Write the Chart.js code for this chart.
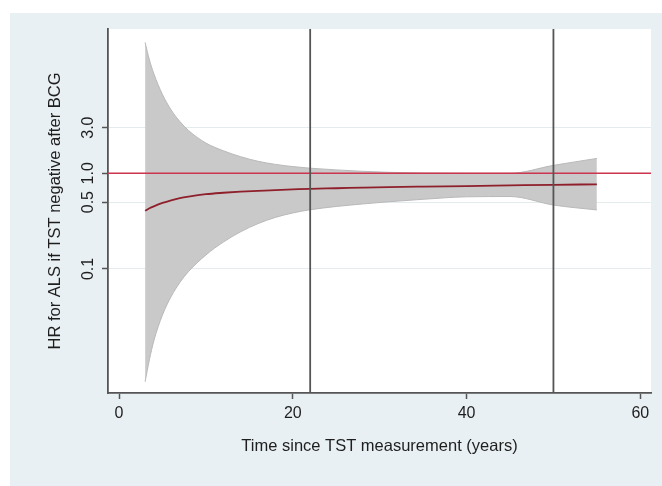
<!DOCTYPE html>
<html><head><meta charset="utf-8">
<script src="https://cdn.jsdelivr.net/npm/chart.js@4/dist/chart.umd.min.js"></script>
<style>html,body{margin:0;padding:0;background:#fff}#wrap{width:662px;height:486px}</style>
</head><body><div id="wrap"><canvas id="c" width="662" height="486"></canvas></div>
<script>
// ---- data ----
const timeYears  = [3, 3.5, 4, 5, 6, 7, 8, 10, 12, 14, 16, 18, 20, 22, 25, 28, 31, 35, 40, 45, 50, 55];
const hrEstimate = [0.406, 0.431, 0.452, 0.490, 0.522, 0.550, 0.571, 0.605, 0.626, 0.643, 0.656, 0.667, 0.678, 0.689, 0.698, 0.708, 0.717, 0.726, 0.736, 0.747, 0.758, 0.767];
const ciUpper    = [23.3, 15.3, 11.0, 6.66, 4.59, 3.48, 2.80, 2.07, 1.72, 1.49, 1.335, 1.239, 1.175, 1.13, 1.085, 1.049, 1.024, 1.007, 1.0, 1.0, 1.21, 1.43];
const ciLower    = [0.00664, 0.01133, 0.0177, 0.0331, 0.0516, 0.0722, 0.0941, 0.140, 0.191, 0.245, 0.298, 0.346, 0.385, 0.416, 0.450, 0.478, 0.504, 0.535, 0.568, 0.572, 0.466, 0.414];
const refLineYears = [22, 50];
const nullHR = 1;
const xTicks = [0, 20, 40, 60];
const yTicks = [0.1, 0.5, 1, 3];
const yTickLabels = ['0.1', '0.5', '1.0', '3.0'];
const xRange = [-1.27, 61.23];
const yRange = [0.00506, 32.2];
const xTitle = 'Time since TST measurement (years)';
const yTitle = 'HR for ALS if TST negative after BCG';

// ---- styling ----
const FONT = "'Liberation Sans', Arial, sans-serif";
const TEXT = '#1e1e1e';
const AXIS = '#555555';

const pts = (xs, ys) => xs.map((x, i) => ({x: x, y: ys[i]}));

const datasets = [
  {label: 'lower', data: pts(timeYears, ciLower), borderColor: '#b9b9b9', borderWidth: 1,
   pointRadius: 0, fill: false, cubicInterpolationMode: 'monotone', order: 10},
  {label: 'upper', data: pts(timeYears, ciUpper), borderColor: '#b9b9b9', borderWidth: 1,
   pointRadius: 0, fill: {target: '-1'}, backgroundColor: '#c9c9c9', cubicInterpolationMode: 'monotone', order: 10},
  {label: 'estimate', data: pts(timeYears, hrEstimate), borderColor: '#8e1f2b', borderWidth: 1.8,
   pointRadius: 0, fill: false, cubicInterpolationMode: 'monotone', order: 5},
  {label: 'null', data: [{x: xRange[0], y: nullHR}, {x: xRange[1], y: nullHR}], borderColor: '#cc3550',
   borderWidth: 1.5, pointRadius: 0, fill: false, order: 3}
];
refLineYears.forEach(function (t) {
  datasets.push({label: 'ref' + t, data: [{x: t, y: yRange[0]}, {x: t, y: yRange[1]}],
    borderColor: AXIS, borderWidth: 1.8, pointRadius: 0, fill: false, order: 1});
});

const bgPlugin = {
  id: 'bg',
  beforeDraw(chart) {
    const c = chart.ctx, a = chart.chartArea;
    c.save();
    c.fillStyle = '#ffffff'; c.fillRect(0, 0, chart.width, chart.height);
    c.fillStyle = '#e9f0f3'; c.fillRect(10, 13, chart.width - 10, chart.height - 13);
    c.fillStyle = '#ffffff'; c.fillRect(a.left, a.top, a.right - a.left, a.bottom - a.top);
    c.restore();
  }
};

new Chart(document.getElementById('c'), {
  type: 'line',
  data: {datasets: datasets},
  plugins: [bgPlugin],
  options: {
    responsive: false,
    animation: false,
    events: [],
    layout: {padding: {left: 0, top: 29, right: 11, bottom: 0}},
    plugins: {legend: {display: false}, tooltip: {enabled: false}},
    scales: {
      x: {
        type: 'linear', min: xRange[0], max: xRange[1], bounds: 'data',
        afterBuildTicks: s => { s.ticks = xTicks.map(v => ({value: v})); },
        afterFit: s => { s.height = 93; },
        grid: {drawOnChartArea: false, drawTicks: true, tickLength: 6, tickColor: AXIS, tickWidth: 1.5},
        border: {display: true, color: AXIS, width: 1.8},
        ticks: {color: TEXT, font: {family: FONT, size: 16}, padding: 5, autoSkip: false, maxRotation: 0},
        title: {display: true, text: xTitle, color: TEXT, font: {family: FONT, size: 16.5},
                padding: {top: 0, bottom: 30}}
      },
      y: {
        type: 'logarithmic', min: yRange[0], max: yRange[1], bounds: 'data',
        afterBuildTicks: s => { s.ticks = yTicks.map(v => ({value: v})); },
        afterFit: s => { s.width = 108; },
        grid: {color: '#e3ebed', lineWidth: 1, drawTicks: true, tickLength: 6, tickColor: AXIS, tickWidth: 1.5},
        border: {display: true, color: AXIS, width: 1.8},
        ticks: {color: TEXT, font: {family: FONT, size: 16}, padding: 2, autoSkip: false,
                minRotation: 90, maxRotation: 90, crossAlign: 'center',
                callback: (v, i) => yTickLabels[i]},
        title: {display: true, text: yTitle, color: TEXT, font: {family: FONT, size: 16.5},
                padding: {top: 46, bottom: 0}}
      }
    }
  }
});
</script>
</body></html>
